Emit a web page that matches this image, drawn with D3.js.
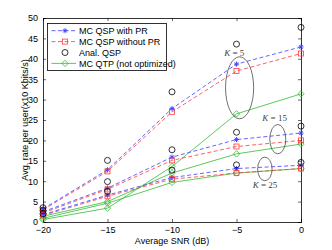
<!DOCTYPE html>
<html>
<head>
<meta charset="utf-8">
<script src="https://cdn.jsdelivr.net/npm/d3@7"></script>
<style>
  body { margin: 0; background: #fff; }
  svg { font-family: "Liberation Sans", Arial, sans-serif; }
</style>
</head>
<body>
<svg id="chart"></svg>
<script>
// x values (dB)
const snr = [-20, -15, -10, -5, 0];
const xTicks = [-20, -15, -10, -5, 0];
const yTicks = [0, 5, 10, 15, 20, 25, 30, 35, 40, 45, 50];

// MC QSP with PR
const prK5 = [3.2, 12.8, 27.8, 38.7, 42.9];
const prK15 = [2.5, 8.3, 15.9, 20.2, 21.8];
const prK25 = [1.8, 6.6, 10.9, 13.1, 13.9];
// MC QSP without PR
const noPrK5 = [3.0, 12.4, 27.0, 37.0, 41.3];
const noPrK15 = [2.2, 8.0, 15.1, 18.5, 20.0];
const noPrK25 = [1.6, 6.3, 10.5, 12.0, 13.1];
// Anal. QSP
const analK5 = [3.5, 15.1, 31.9, 43.6, 47.7];
const analK15 = [2.8, 9.9, 17.7, 22.0, 23.5];
const analK25 = [2.0, 7.5, 12.7, 14.0, 14.6];
// MC QTP (not optimized)
const qtpK5 = [0.6, 3.4, 13.6, 26.5, 31.4];
const qtpK15 = [1.4, 5.0, 12.0, 16.7, 19.1];
const qtpK25 = [0.9, 4.6, 9.7, 12.0, 13.1];

const legendLabels = ["MC QSP with PR", "MC QSP without PR", "Anal. QSP", "MC QTP (not optimized)"];

const W = 332, H = 250;
const margin = {top: 18, right: 31, bottom: 28, left: 43};
const innerW = W - margin.left - margin.right;
const innerH = H - margin.top - margin.bottom;

const blue = "#3d3dff", red = "#ff3a3a", green = "#33bb33";

const svg = d3.select("#chart").attr("width", W).attr("height", H);
const chart = svg.append("g").attr("transform", `translate(${margin.left},${margin.top})`);

const xscale = d3.scaleLinear().domain([-20, 0]).range([0, innerW]);
const yscale = d3.scaleLinear().domain([0, 50]).range([innerH, 0]);

// frame + inward ticks (matlab style)
const tickLen = 3;
chart.append("g").attr("transform", `translate(0,${innerH})`)
    .call(d3.axisBottom(xscale).tickValues(xTicks).tickSize(-tickLen).tickPadding(5)
        .tickFormat(d => d === 0 ? "0" : "\u2212" + Math.abs(d)));
chart.append("g")
    .call(d3.axisLeft(yscale).tickValues(yTicks).tickSize(-tickLen).tickPadding(5));
chart.append("g")
    .call(d3.axisTop(xscale).tickValues(xTicks).tickSize(-tickLen).tickFormat(""));
chart.append("g").attr("transform", `translate(${innerW},0)`)
    .call(d3.axisRight(yscale).tickValues(yTicks).tickSize(-tickLen).tickFormat(""));
chart.selectAll(".domain").attr("stroke", "#000").attr("stroke-width", 0.8);
chart.selectAll(".tick line").attr("stroke", "#000").attr("stroke-width", 0.6);
chart.selectAll(".tick text").attr("font-size", 9).attr("fill", "#000")
    .attr("font-family", "Liberation Sans, Arial, sans-serif");

// line drawing
const line = d3.line().x((d, i) => xscale(snr[i])).y(d => yscale(d));

function drawSeries(vals, color, dashed) {
    chart.append("path")
        .attr("d", line(vals))
        .attr("fill", "none")
        .attr("stroke", color)
        .attr("stroke-width", 0.8)
        .attr("stroke-dasharray", dashed ? "4,2.5" : null);
}

function star(g, cx, cy, color) {
    const r = 2.6;
    const p = g.append("g").attr("transform", `translate(${cx},${cy})`)
        .attr("stroke", color).attr("stroke-width", 0.9);
    p.append("line").attr("x1", -r).attr("x2", r);
    p.append("line").attr("y1", -r).attr("y2", r);
    p.append("line").attr("x1", -r * 0.7).attr("y1", -r * 0.7).attr("x2", r * 0.7).attr("y2", r * 0.7);
    p.append("line").attr("x1", -r * 0.7).attr("y1", r * 0.7).attr("x2", r * 0.7).attr("y2", -r * 0.7);
}
function square(g, cx, cy, color) {
    g.append("rect").attr("x", cx - 2.5).attr("y", cy - 2.5).attr("width", 5).attr("height", 5)
        .attr("fill", "none").attr("stroke", color).attr("stroke-width", 0.8);
}
function circle(g, cx, cy, color) {
    g.append("circle").attr("cx", cx).attr("cy", cy).attr("r", 3)
        .attr("fill", "none").attr("stroke", color).attr("stroke-width", 0.8);
}
function diamond(g, cx, cy, color) {
    const r = 3.2;
    g.append("path").attr("d", `M${cx},${cy - r}L${cx + r},${cy}L${cx},${cy + r}L${cx - r},${cy}Z`)
        .attr("fill", "none").attr("stroke", color).attr("stroke-width", 0.8);
}
function drawMarkers(vals, fn, color) {
    vals.forEach((v, i) => fn(chart, xscale(snr[i]), yscale(v), color));
}

[qtpK5, qtpK15, qtpK25].forEach(s => { drawSeries(s, green, false); drawMarkers(s, diamond, green); });
[noPrK5, noPrK15, noPrK25].forEach(s => { drawSeries(s, red, true); });
[prK5, prK15, prK25].forEach(s => { drawSeries(s, blue, true); });
[prK5, prK15, prK25].forEach(s => drawMarkers(s, star, blue));
[noPrK5, noPrK15, noPrK25].forEach(s => drawMarkers(s, square, red));
[analK5, analK15, analK25].forEach(s => drawMarkers(s, circle, "#000"));

// ellipses grouping each K (data units)
const groups = [
    {cx: -4.76, cy: 32.9, rx: 1.09, ry: 7.6, label: "5", lx: -5.95, ly: 40.8},
    {cx: -1.8, cy: 20.3, rx: 0.62, ry: 3.6, label: "15", lx: -3.0, ly: 24.7},
    {cx: -2.8, cy: 13.0, rx: 0.56, ry: 2.9, label: "25", lx: -3.75, ly: 8.3}
];
groups.forEach(g => {
    chart.append("ellipse")
        .attr("cx", xscale(g.cx)).attr("cy", yscale(g.cy))
        .attr("rx", xscale(g.cx + g.rx) - xscale(g.cx))
        .attr("ry", yscale(g.cy - g.ry) - yscale(g.cy))
        .attr("fill", "none").attr("stroke", "#333").attr("stroke-width", 0.7);
    const t = chart.append("text")
        .attr("x", xscale(g.lx)).attr("y", yscale(g.ly))
        .attr("font-family", "Liberation Serif, Times New Roman, serif")
        .attr("font-size", 9).attr("fill", "#444");
    t.append("tspan").attr("font-style", "italic").text("K");
    t.append("tspan").text(" = " + g.label);
});

// legend
const lg = svg.append("g").attr("transform", "translate(47.5,23.5)");
lg.append("rect").attr("width", 119).attr("height", 47)
    .attr("fill", "#fff").attr("stroke", "#000").attr("stroke-width", 0.8);
const legendStyle = [
    {color: blue, dash: "4,2.5", marker: star},
    {color: red, dash: "4,2.5", marker: square},
    {color: "#000", dash: null, marker: circle, noLine: true},
    {color: green, dash: null, marker: diamond}
];
legendLabels.forEach((lab, i) => {
    const y = 7.2 + i * 10.9;
    const s = legendStyle[i];
    if (!s.noLine) {
        lg.append("line").attr("x1", 4).attr("x2", 28.5).attr("y1", y).attr("y2", y)
            .attr("stroke", s.color).attr("stroke-width", 0.8).attr("stroke-dasharray", s.dash);
    }
    s.marker(lg, 17.5, y, s.color);
    lg.append("text").attr("x", 31.5).attr("y", y + 3.2)
        .attr("font-size", 9).attr("fill", "#000").text(lab);
});

// axis labels
svg.append("text")
    .attr("x", margin.left + innerW / 2).attr("y", 244)
    .attr("text-anchor", "middle").attr("font-size", 9).text("Average SNR (dB)");
svg.append("text")
    .attr("transform", `translate(28,${margin.top + innerH / 2}) rotate(-90)`)
    .attr("text-anchor", "middle").attr("font-size", 9).text("Avg. rate per user(x10 Kbits/s)");
</script>
</body>
</html>
